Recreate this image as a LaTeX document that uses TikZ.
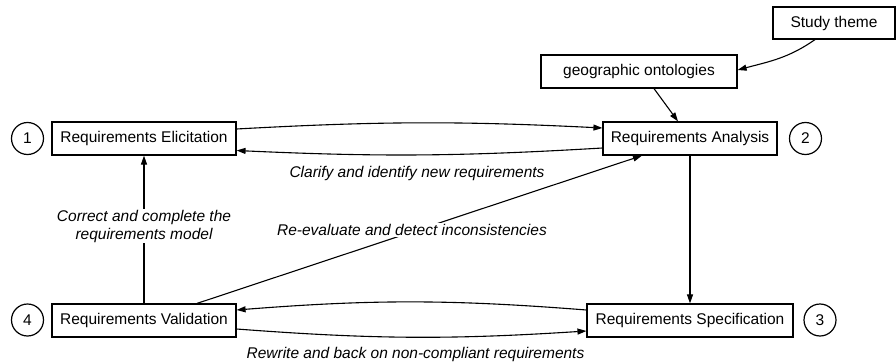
\documentclass[tikz,border=0pt]{standalone}
\usepackage{fontspec}
\setmainfont{Liberation Sans}
\usetikzlibrary{arrows.meta}
\begin{document}
\begin{tikzpicture}[x=1pt,y=1pt,
  every node/.style={font=\fontsize{15.5}{18}\selectfont},
  box/.style={draw,line width=1.2pt,minimum height=33pt,inner sep=0pt},
  num/.style={draw,circle,line width=1.2pt,minimum size=32pt,inner sep=0pt},
  lbl/.style={font=\fontsize{15.5}{18}\selectfont\itshape,fill=white,inner sep=1pt,align=center},
  conn/.style={line width=1.1pt,-{Triangle[length=9pt,width=6pt]}}
]
\useasboundingbox (0,0) rectangle (896,362);
% boxes
\node[box,minimum width=184pt] (elic) at (144,223.5) {Requirements Elicitation};
\node[box,minimum width=174pt] (anal) at (690,223.5) {Requirements Analysis};
\node[box,minimum width=196pt] (geo) at (639,290.5) {geographic ontologies};
\node[box,minimum width=122pt,minimum height=32pt] (study) at (834,339) {Study theme};
\node[box,minimum width=184pt] (val) at (144,41.5) {Requirements Validation};
\node[box,minimum width=206pt] (spec) at (690,41.5) {Requirements Specification};
% numbers
\node[num] (n1) at (27.5,223.5) {1};
\node[num] (n2) at (805.5,223.5) {2};
\node[num] (n3) at (820,42) {3};
\node[num] (n4) at (27.5,42) {4};
% connectors
\draw[conn] ([yshift=9.5pt]elic.east) to[bend left=3] ([yshift=10.5pt]anal.west);
\draw[conn] ([yshift=-9.5pt]anal.west) to[bend left=3] ([yshift=-12pt]elic.east);
\node[lbl] (lclar) at (417,189) {Clarify and identify new requirements};
\draw[conn] (val.north) -- (elic.south);
\node[lbl] (lcorr) at (144,136) {Correct and complete the\\requirements model};
\draw[conn] ([xshift=53pt]val.north) -- ([xshift=-48pt]anal.south);
\node[lbl] (lre) at (412,132) {Re-evaluate and detect inconsistencies};
\draw[conn] (anal.south) -- (spec.north);
\draw[conn] ([yshift=10.5pt]spec.west) to[bend right=4.5] ([yshift=10.5pt]val.east);
\draw[conn] ([yshift=-8.5pt]val.east) to[bend right=4] ([yshift=-10.5pt]spec.west);
\node[lbl] (lrew) at (415.5,8) {Rewrite and back on non-compliant requirements};
\draw[conn] ([xshift=-19pt]study.south) to[out=215,in=15] ([yshift=1.5pt]geo.east);
\draw[conn] ([xshift=15pt]geo.south) -- ([xshift=-12pt]anal.north);
\end{tikzpicture}
\end{document}
